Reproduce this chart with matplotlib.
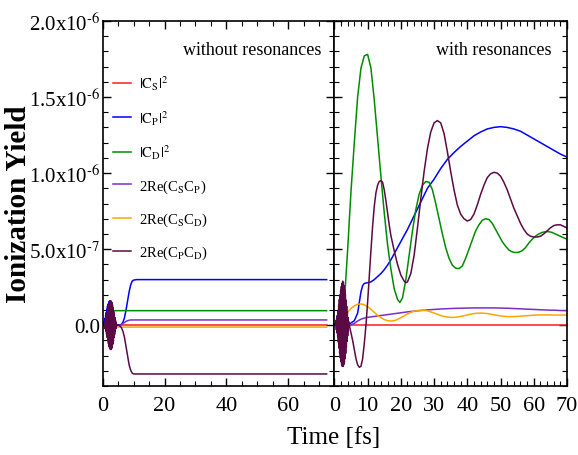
import numpy as np
import matplotlib
matplotlib.use("Agg")
import matplotlib.pyplot as plt
from matplotlib.ticker import MultipleLocator

plt.rcParams['font.family'] = ['Liberation Serif', 'DejaVu Serif']
plt.rcParams['mathtext.fontset'] = 'stix'

# values in units of 1e-7, time in fs
colors = ['#ff1a1a', '#0000ff', '#008c00', '#7a2ec8', '#ffa500', '#5c0a45']
labels = [r'$|\mathrm{C_S}|^2$', r'$|\mathrm{C_P}|^2$', r'$|\mathrm{C_D}|^2$',
          r'2Re(C$_\mathrm{S}$C$_\mathrm{P}$)', r'2Re(C$_\mathrm{S}$C$_\mathrm{D}$)',
          r'2Re(C$_\mathrm{P}$C$_\mathrm{D}$)']

# early pulse (shared by both panels)
t_burst_p = [0.0, 0.1, 0.2, 0.3, 0.4, 0.5, 0.6, 0.7, 0.8, 0.9, 1.0, 1.1, 1.2, 1.3, 1.4,
             1.5, 1.6, 1.7, 1.8, 1.9, 2.0, 2.1, 2.2, 2.3, 2.4, 2.5, 2.6, 2.7, 2.8, 2.9,
             3.0, 3.1, 3.2, 3.3, 3.4, 3.5, 3.6, 3.7, 3.8, 3.9, 4.0]
p_burst = [0, 0.05, 0, 0.15, 0, 0.3, 0.02, 0.45, 0.05, 0.65, 0.1, 0.85, 0.15, 1.05, 0.2,
           1.25, 0.25, 1.4, 0.3, 1.5, 0.35, 1.58, 0.35, 1.6, 0.3, 1.55, 0.25, 1.45, 0.2, 1.3,
           0.15, 1.1, 0.1, 0.85, 0.08, 0.6, 0.05, 0.4, 0.05, 0.2, 0.05]

t_burst_pd = [0.5, 0.6, 0.7, 0.8, 0.9, 1.0, 1.1, 1.2, 1.3, 1.4, 1.5, 1.6, 1.7, 1.8, 1.9,
              2.0, 2.1, 2.2, 2.3, 2.4, 2.5, 2.6, 2.7, 2.8, 2.9, 3.0, 3.1, 3.2, 3.3, 3.4,
              3.5, 3.6, 3.7, 3.8, 3.9, 4.0, 4.1, 4.2, 4.3, 4.4, 4.5]
pd_burst_wo = [0.1, -0.15, 0.2, -0.25, 0.3, -0.4, 0.5, -0.6, 0.7, -0.8, 0.9, -1.0, 1.1,
               -1.2, 1.3, -1.4, 1.45, -1.5, 1.55, -1.58, 1.6, -1.6, 1.58, -1.55, 1.5,
               -1.45, 1.35, -1.25, 1.15, -1.05, 0.9, -0.8, 0.7, -0.6, 0.5, -0.4, 0.3,
               -0.22, 0.15, -0.08, 0.0]
pd_burst_w = [0.2, -0.3, 0.4, -0.5, 0.6, -0.75, 0.9, -1.1, 1.3, -1.5, 1.7, -1.85, 2.0,
              -2.15, 2.3, -2.4, 2.55, -2.6, 2.75, -2.7, 2.9, -2.7, 2.8, -2.6, 2.6,
              -2.45, 2.35, -2.2, 2.05, -1.85, 1.65, -1.45, 1.25, -1.05, 0.85, -0.7, 0.5,
              -0.4, 0.25, -0.15, 0.0]

# ---- without resonances ----
wo_t_s = [0, 72.5]
wo_s = [0.03, 0.03]
wo_t_p = [4.5, 5, 6, 6.5, 7, 7.5, 8, 8.5, 9, 9.5, 10, 11, 72.5]
wo_p = [0.05, 0.02, 0.05, 0.2, 0.5, 1.0, 1.6, 2.2, 2.65, 2.9, 2.97, 3.0, 3.0]
wo_t_d = [0, 1, 1.5, 2, 2.5, 3, 3.5, 4, 72.5]
wo_d = [0, 0.05, 0.2, 0.4, 0.65, 0.85, 0.95, 0.96, 0.96]
wo_t_sp = [0, 5, 5.5, 6, 6.5, 7, 7.5, 8, 8.5, 9, 72.5]
wo_sp = [0, 0, 0.02, 0.06, 0.12, 0.19, 0.25, 0.3, 0.33, 0.35, 0.35]
wo_t_sd = [0, 2, 3, 4, 72.5]
wo_sd = [0, -0.05, -0.1, -0.12, -0.12]
wo_t_pd = [4.5, 5, 5.5, 6, 6.5, 7, 7.5, 8, 8.5, 9, 9.5, 10, 72.5]
wo_pd = [0, 0, -0.05, -0.15, -0.4, -0.8, -1.4, -2.0, -2.6, -2.95, -3.15, -3.2, -3.2]

# ---- with resonances ----
w_t_s = [0, 70]
w_s = [0, 0]
w_t_p = [4.5, 5, 6, 7, 7.5, 8, 8.5, 9, 10, 11, 12, 13, 14, 15, 16, 17, 18, 19, 20, 22, 24,
         26, 28, 30, 32, 34, 36, 38, 40, 42, 44, 46, 48, 50, 52, 54, 56, 58, 60, 62, 64,
         66, 68, 70]
w_p = [0.1, 0.15, 0.3, 0.8, 1.5, 2.2, 2.6, 2.75, 2.8, 2.85, 3.0, 3.2, 3.4, 3.65, 3.95,
       4.3, 4.7, 5.1, 5.5, 6.3, 7.2, 8.1, 9.0, 9.6, 10.3, 10.9, 11.35, 11.75, 12.1, 12.45,
       12.7, 12.9, 13.0, 13.05, 13.0, 12.9, 12.75, 12.5, 12.25, 12.0, 11.75, 11.5, 11.25,
       11.05]
w_t_d = [0, 1, 2, 3, 4, 5, 6, 7, 8, 9, 10, 11, 12, 13, 14, 15, 16, 17, 18, 19, 19.7, 20.5,
         21.5, 22.5, 23.5, 24.5, 25.5, 26.5, 27.5, 28.5, 29.5, 30.5, 31.5, 32.5, 33.5,
         34.5, 35.5, 36.5, 37.5, 38.5, 39.5, 40.5, 41.5, 42.5, 43.5, 44.5, 45.5, 46.5,
         47.5, 48.5, 49.5, 50.5, 51.5, 52.5, 53.5, 54.5, 55.5, 56.5, 57.5, 58.5, 59.5,
         60.5, 61.5, 62.5, 63.5, 64.5, 65.5, 66.5, 67.5, 68.5, 70]
w_d = [0, 0.2, 0.3, 1.5, 5.0, 8.8, 12.0, 15.0, 16.9, 17.7, 17.8, 16.9, 14.8, 12.3, 9.8,
       7.4, 5.3, 3.7, 2.4, 1.7, 1.5, 1.8, 3.0, 4.6, 6.2, 7.6, 8.6, 9.2, 9.45, 9.4, 8.9,
       8.0, 7.0, 6.0, 5.1, 4.4, 3.95, 3.75, 3.72, 3.9, 4.4, 5.0, 5.6, 6.2, 6.6, 6.9, 7.0,
       6.95, 6.7, 6.3, 5.9, 5.5, 5.2, 4.95, 4.82, 4.78, 4.8, 4.9, 5.1, 5.4, 5.65, 5.85,
       6.0, 6.1, 6.15, 6.15, 6.1, 6.0, 5.9, 5.8, 5.65]
w_t_sp = [0, 4, 5, 6, 7, 8, 9, 10, 12, 14, 16, 18, 20, 22, 24, 26, 28, 30, 32, 34, 36, 38,
          40, 42, 44, 46, 48, 50, 52, 54, 56, 58, 60, 62, 64, 66, 68, 70]
w_sp = [0, 0, 0.02, 0.12, 0.28, 0.4, 0.47, 0.52, 0.58, 0.64, 0.7, 0.76, 0.82, 0.88, 0.93,
        0.97, 1.01, 1.04, 1.07, 1.09, 1.11, 1.12, 1.13, 1.14, 1.14, 1.14, 1.14, 1.13, 1.12,
        1.1, 1.08, 1.06, 1.04, 1.02, 1.0, 0.99, 0.97, 0.96]
w_t_sd = [0, 1, 2, 3, 4, 5, 6, 7, 8, 9, 10, 11, 12, 13, 14, 15, 16, 17, 18, 19, 20, 21, 22,
          23, 24, 25, 26, 27, 28, 29, 30, 31, 32, 33, 34, 35, 36, 37, 38, 39, 40, 41, 42,
          43, 44, 45, 46, 47, 48, 49, 50, 51, 52, 53, 54, 55, 56, 58, 60, 62, 64, 66, 68, 70]
w_sd = [0, 0.05, 0.2, 0.5, 0.85, 1.1, 1.28, 1.38, 1.4, 1.35, 1.22, 1.05, 0.85, 0.65, 0.5,
        0.38, 0.3, 0.28, 0.3, 0.38, 0.5, 0.62, 0.75, 0.85, 0.92, 0.97, 0.99, 0.98, 0.95,
        0.88, 0.8, 0.72, 0.64, 0.58, 0.54, 0.52, 0.52, 0.54, 0.58, 0.63, 0.68, 0.73, 0.77,
        0.79, 0.8, 0.79, 0.77, 0.73, 0.69, 0.65, 0.61, 0.59, 0.57, 0.57, 0.57, 0.58, 0.6,
        0.63, 0.66, 0.68, 0.68, 0.67, 0.67, 0.68]
w_t_pd = [4.5, 5, 5.5, 6, 6.5, 7, 7.5, 8, 8.5, 9, 9.5, 10, 10.5, 11, 11.5, 12, 12.5, 13,
          13.5, 14, 14.5, 15, 15.5, 16, 16.5, 17, 18, 19, 20, 21, 21.5, 22, 23, 24, 25, 26,
          27, 28, 29, 30, 31, 32, 33, 34, 35, 36, 37, 38, 39, 40, 41, 42, 43, 44, 45, 46,
          47, 48, 49, 50, 51, 52, 53, 54, 55, 56, 57, 58, 59, 60, 61, 62, 63, 64, 65, 66,
          67, 68, 69, 70]
w_pd = [0, -0.5, -1.0, -1.6, -2.2, -2.6, -2.76, -2.7, -2.2, -1.2, 0.0, 1.5, 3.2, 4.9, 6.5,
        7.8, 8.7, 9.2, 9.45, 9.5, 9.4, 8.9, 8.2, 7.4, 6.6, 5.9, 4.9, 4.0, 3.3, 2.9, 2.8,
        2.85, 3.4, 4.6, 6.4, 8.3, 10.1, 11.6, 12.7, 13.3, 13.45, 13.3, 12.6, 11.4, 10.1,
        8.9, 7.9, 7.3, 7.0, 6.85, 6.95, 7.3, 7.9, 8.6, 9.2, 9.7, 9.95, 10.05, 10.0, 9.8,
        9.4, 8.9, 8.3, 7.7, 7.2, 6.7, 6.3, 6.0, 5.85, 5.8, 5.8, 5.85, 6.0, 6.2, 6.4, 6.55,
        6.6, 6.6, 6.5, 6.4]

ytick_vals = [0, 5e-7, 1e-6, 1.5e-6, 2e-6]
ytick_labels = ['0.0', r'5.0x10$^{\text{-7}}$', r'1.0x10$^{\text{-6}}$',
                r'1.5x10$^{\text{-6}}$', r'2.0x10$^{\text{-6}}$']

fig = plt.figure(figsize=(5.78, 4.56), dpi=100)
ax1 = fig.add_axes([0.178, 0.151, 0.4005, 0.801])
ax2 = fig.add_axes([0.5785, 0.151, 0.4025, 0.801])

E = 1e-7
LW = 1.1


def draw(ax, series):
    for (tt, vv), c, lab in zip(series, colors, labels):
        ax.plot(tt, np.array(vv) * E, color=c, lw=LW, label=lab)


draw(ax1, [(wo_t_s, wo_s), (wo_t_p, wo_p), (wo_t_d, wo_d),
           (wo_t_sp, wo_sp), (wo_t_sd, wo_sd), (wo_t_pd, wo_pd)])
ax1.plot(t_burst_p, np.array(p_burst) * E, color=colors[1], lw=LW)
ax1.plot(t_burst_pd, np.array(pd_burst_wo) * E, color=colors[5], lw=LW)

draw(ax2, [(w_t_s, w_s), (w_t_p, w_p), (w_t_d, w_d),
           (w_t_sp, w_sp), (w_t_sd, w_sd), (w_t_pd, w_pd)])
ax2.plot(t_burst_p, np.array(p_burst) * E, color=colors[1], lw=LW)
ax2.plot(t_burst_pd, np.array(pd_burst_w) * E, color=colors[5], lw=LW)

for ax in (ax1, ax2):
    ax.set_ylim(-4e-7, 2e-6)
    ax.set_yticks(ytick_vals)
    ax.yaxis.set_minor_locator(MultipleLocator(1e-7))
    ax.tick_params(which='both', direction='in', top=True, right=True, labelsize=15)
    ax.tick_params(axis='x', pad=7, labelsize=16)
    ax.tick_params(axis='y', pad=2)
    ax.tick_params(which='major', length=6, width=1)
    ax.tick_params(which='minor', length=3.5, width=0.8)
    for s in ax.spines.values():
        s.set_linewidth(1.2)

ax1.set_xlim(0, 75)
ax1.set_xticks([0, 20, 40, 60])
ax1.xaxis.set_minor_locator(MultipleLocator(5))
ax1.set_yticklabels(ytick_labels)
ax1.set_ylabel('Ionization Yield', fontsize=21, fontweight='bold')
ax1.yaxis.set_label_coords(-0.305, 0.5)

ax2.set_xlim(0, 70)
ax2.set_xticks([0, 10, 20, 30, 40, 50, 60, 70])
ax2.xaxis.set_minor_locator(MultipleLocator(2))
ax2.set_yticklabels([])

ax1.text(0.946, 0.923, 'without resonances', transform=ax1.transAxes,
         ha='right', va='center', fontsize=13)
ax2.text(0.935, 0.923, 'with resonances', transform=ax2.transAxes,
         ha='right', va='center', fontsize=13)

ax1.legend(loc='upper left', bbox_to_anchor=(0.0, 0.885), frameon=False, fontsize=10.5,
           handlelength=1.25, handletextpad=0.5, labelspacing=1.1, borderaxespad=0.3)

fig.text(0.578, 0.04, 'Time [fs]', ha='center', va='center', fontsize=18)

fig.savefig('out.png', dpi=100)
